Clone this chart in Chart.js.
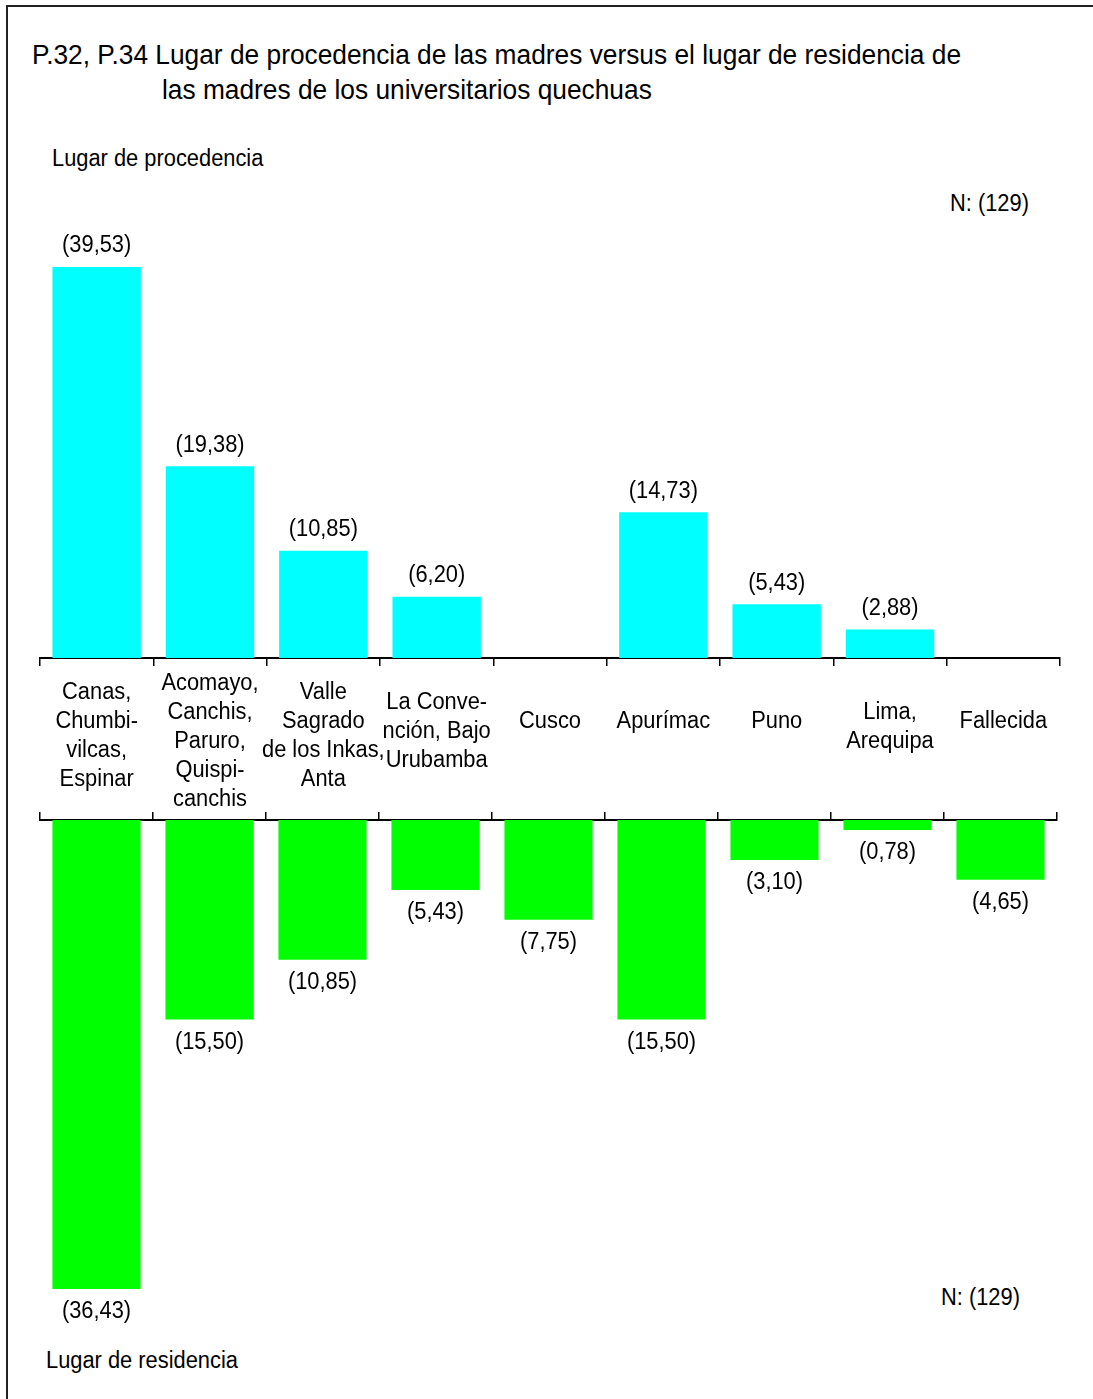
<!DOCTYPE html>
<html>
<head>
<meta charset="utf-8">
<script src="https://cdn.jsdelivr.net/npm/chart.js@4"></script>
<style>
  body { margin: 0; background: #fff; width: 1093px; height: 1399px; overflow: hidden; position: relative; font-family: 'Liberation Sans', Arial, sans-serif; color: #000; }
  .frame { position: absolute; left: 6px; top: 5px; right: -10px; bottom: -10px; border-top: 2px solid #222; border-left: 2px solid #222; }
  .txt { position: absolute; white-space: nowrap; transform: scaleX(0.95); transform-origin: left center; line-height: 30px; font-size: 23px; }
  .title { font-size: 27.7px; line-height: 34px; }
  canvas { position: absolute; left: 0; }
</style>
</head>
<body>
<div class="frame"></div>
<div class="txt title" style="left:32px; top:38px;">P.32, P.34 Lugar de procedencia de las madres versus el lugar de residencia de</div>
<div class="txt title" style="left:162px; top:73px;">las madres de los universitarios quechuas</div>
<div class="txt" style="left:52px; top:143px;">Lugar de procedencia</div>
<div class="txt" style="left:950px; top:188px;">N: (129)</div>
<div class="txt" style="left:941px; top:1282px;">N: (129)</div>
<div class="txt" style="left:46px; top:1345px;">Lugar de residencia</div>

<canvas id="topChart" width="1093" height="830" style="top:0"></canvas>
<canvas id="bottomChart" width="1093" height="587" style="top:812px"></canvas>

<script>
// categorias (cada una en varias lineas)
const categories = [
    ['Canas,', 'Chumbi-', 'vilcas,', 'Espinar'],
    ['Acomayo,', 'Canchis,', 'Paruro,', 'Quispi-', 'canchis'],
    ['Valle', 'Sagrado', 'de los Inkas,', 'Anta'],
    ['La Conve-', 'nción, Bajo', 'Urubamba'],
    ['Cusco'],
    ['Apurímac'],
    ['Puno'],
    ['Lima,', 'Arequipa'],
    ['Fallecida']
];

// porcentajes
const procedencia = [39.53, 19.38, 10.85, 6.20, null, 14.73, 5.43, 2.88, null];
const residencia = [36.43, 15.50, 10.85, 5.43, 7.75, 15.50, 3.10, 0.78, 4.65];

const FONT = "'Liberation Sans', Arial, sans-serif";
const labelText = categories.map(c => c.join(' '));

function drawText(ctx, text, x, y, size) {
    ctx.save();
    ctx.translate(x, y);
    ctx.scale(0.95, 1);
    ctx.font = size + 'px ' + FONT;
    ctx.fillStyle = '#000';
    ctx.textAlign = 'center';
    ctx.textBaseline = 'middle';
    ctx.fillText(text, 0, 0);
    ctx.restore();
}

function fmt(v) {
    return '(' + v.toFixed(2).replace('.', ',') + ')';
}

// etiquetas de valor encima / debajo de cada barra
const valueLabels = {
    id: 'valueLabels',
    afterDatasetsDraw(chart, args, opts) {
        const ctx = chart.ctx;
        const meta = chart.getDatasetMeta(0);
        chart.data.datasets[0].data.forEach((v, i) => {
            if (v === null) return;
            const bar = meta.data[i];
            drawText(ctx, fmt(v), bar.x, bar.y + opts.offset, 23);
        });
    }
};

// nombres de categorias entre los dos ejes
const categoryLabels = {
    id: 'categoryLabels',
    afterDraw(chart) {
        const ctx = chart.ctx;
        const x = chart.scales.x;
        const axisY = chart.chartArea.bottom;
        categories.forEach((lines, i) => {
            const cx = x.getPixelForValue(i);
            const center = axisY + 64 + (lines.length - 1) * 4.8;
            const top = center - (lines.length - 1) * 29 / 2;
            lines.forEach((ln, j) => drawText(ctx, ln, cx, top + j * 29, 23));
        });
    }
};

const xAxis = (position) => ({
    position: position,
    offset: true,
    grid: {
        offset: true,
        drawOnChartArea: false,
        drawTicks: true,
        tickLength: 8,
        color: '#000',
        lineWidth: 1.5
    },
    border: { display: true, color: '#000', width: 2 },
    ticks: { display: false }
});

const baseOptions = {
    responsive: false,
    animation: false,
    devicePixelRatio: 1,
    plugins: {
        legend: { display: false },
        tooltip: { enabled: false }
    }
};

new Chart(document.getElementById('topChart'), {
    type: 'bar',
    data: {
        labels: labelText,
        datasets: [{
            data: procedencia,
            backgroundColor: '#00FFFF',
            borderWidth: 0,
            barPercentage: 0.78,
            categoryPercentage: 1
        }]
    },
    options: {
        ...baseOptions,
        layout: { padding: { left: 40, right: 33, top: 213, bottom: 164 } },
        plugins: { ...baseOptions.plugins, valueLabels: { offset: -21 } },
        scales: {
            x: xAxis('bottom'),
            y: { display: false, min: 0, max: 45 }
        }
    },
    plugins: [valueLabels, categoryLabels]
});

new Chart(document.getElementById('bottomChart'), {
    type: 'bar',
    data: {
        labels: labelText,
        datasets: [{
            data: residencia,
            backgroundColor: '#00FF00',
            borderWidth: 0,
            barPercentage: 0.78,
            categoryPercentage: 1
        }]
    },
    options: {
        ...baseOptions,
        layout: { padding: { left: 40, right: 36, top: 0, bottom: 64 } },
        plugins: { ...baseOptions.plugins, valueLabels: { offset: 23 } },
        scales: {
            x: xAxis('top'),
            y: { display: false, reverse: true, min: 0, max: 40 }
        }
    },
    plugins: [valueLabels]
});
</script>
</body>
</html>
